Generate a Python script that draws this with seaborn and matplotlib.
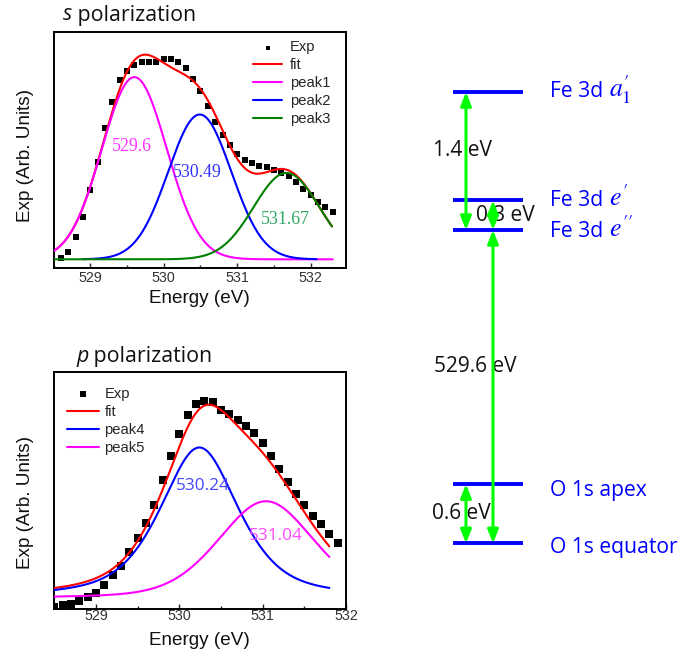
import numpy as np
import pandas as pd
import matplotlib
matplotlib.use("Agg")
import matplotlib.pyplot as plt
from matplotlib.ticker import MultipleLocator, NullLocator
import seaborn as sns

# ---------------- s polarization ----------------
s_energy = [528.6, 528.7, 528.8, 528.9, 529.0, 529.1, 529.2, 529.3, 529.4, 529.5,
            529.6, 529.7, 529.8, 529.9, 530.0, 530.1, 530.2, 530.3, 530.4, 530.5,
            530.6, 530.7, 530.8, 530.9, 531.0, 531.1, 531.2, 531.3, 531.4, 531.5,
            531.6, 531.7, 531.8, 531.9, 532.0, 532.1, 532.2, 532.3]
s_exp = [0.042, 0.068, 0.131, 0.215, 0.331, 0.451, 0.593, 0.703, 0.794, 0.836,
         0.859, 0.871, 0.871, 0.874, 0.883, 0.883, 0.874, 0.847, 0.802, 0.751,
         0.686, 0.619, 0.565, 0.520, 0.483, 0.458, 0.444, 0.434, 0.429, 0.417,
         0.403, 0.388, 0.363, 0.335, 0.309, 0.282, 0.258, 0.236]
s_peak_names = ["peak1", "peak2", "peak3"]
s_centers = [529.6, 530.49, 531.67]
s_heights = [0.77, 0.612, 0.365]
s_fwhm = [1.04, 1.01, 1.05]
s_lorentz = [0.0, 0.0, 0.0]
s_background = 0.038
s_peak_start = [528.5, 528.9, 528.5]
s_peak_end = [532.30, 532.08, 532.29]
s_fit_range = [528.5, 532.29]

# ---------------- p polarization ----------------
p_energy = [528.5, 528.6, 528.7, 528.8, 528.9, 529.0, 529.1, 529.2, 529.3, 529.4,
            529.5, 529.6, 529.7, 529.8, 529.9, 530.0, 530.1, 530.2, 530.3, 530.4,
            530.5, 530.6, 530.7, 530.8, 530.9, 531.0, 531.1, 531.2, 531.3, 531.4,
            531.5, 531.6, 531.7, 531.8, 531.9]
p_exp = [0.008, 0.014, 0.018, 0.032, 0.049, 0.067, 0.100, 0.140, 0.180, 0.238,
         0.299, 0.362, 0.439, 0.541, 0.642, 0.736, 0.818, 0.864, 0.877, 0.870,
         0.839, 0.820, 0.794, 0.771, 0.741, 0.698, 0.645, 0.589, 0.533, 0.484,
         0.439, 0.390, 0.358, 0.313, 0.278]
p_peak_names = ["peak4", "peak5"]
p_centers = [530.24, 531.04]
p_heights = [0.638, 0.411]
p_fwhm = [1.12, 1.36]
p_lorentz = [0.6, 0.3]
p_background = 0.042
p_fit_range = [528.49, 531.8]

# ---------------- energy level scheme ----------------
fe_prefix = "Fe 3d"
fe_symmetry = ["$a_1'$", "$e'$", "$e''$"]
fe_energy = [1.4, 0.3, 0.0]          # relative to Fe 3d e''
o_levels = ["O 1s apex", "O 1s equator"]
o_energy = [0.6, 0.0]                # relative to O 1s equator
edge_energy = 529.6                  # O 1s equator -> Fe 3d e''

# ---------------- styling ----------------
W, H = 681, 664
sns.set_style("ticks")
plt.rcParams["font.family"] = ["Liberation Sans", "DejaVu Sans"]
plt.rcParams["mathtext.fontset"] = "stix"
SANS2 = ["Open Sans", "DejaVu Sans"]
RED, MAG, BLUE, GREEN = "#ff0000", "#ff00ff", "#0000ff", "#008000"


def component(x, center, height, fwhm, eta):
    u = ((x - center) / fwhm) ** 2
    return height * ((1 - eta) * np.exp(-4 * np.log(2) * u) + eta / (1 + 4 * u))


def style_axes(ax, xlim, tick_pad):
    ax.set_xlim(*xlim)
    ax.set_ylim(0, 1)
    ax.xaxis.set_major_locator(MultipleLocator(1))
    ax.xaxis.set_minor_locator(MultipleLocator(0.5))
    ax.yaxis.set_major_locator(NullLocator())
    ax.tick_params(axis="x", which="major", direction="in", length=3.5, width=1.0,
                   labelsize=10.3, labelcolor="#333333", pad=tick_pad, top=False)
    ax.tick_params(axis="x", which="minor", direction="in", length=2.2, width=1.0, top=False)
    for sp in ax.spines.values():
        sp.set_visible(True)
        sp.set_linewidth(1.4)
        sp.set_color("black")
    ax.set_xlabel("Energy (eV)", fontsize=13.6, color="#111111")
    ax.set_ylabel("Exp (Arb. Units)", fontsize=13.6, color="#111111")


fig = plt.figure(figsize=(W / 100, H / 100), dpi=100)

# ---------------- top panel ----------------
ax1 = fig.add_axes([53.5 / W, 1 - 268.3 / H, 292.5 / W, 236.6 / H])
sns.scatterplot(x=s_energy, y=s_exp, marker="s", color="black", s=24, linewidth=0,
                label="Exp", ax=ax1, zorder=2)
xf = np.linspace(s_fit_range[0], s_fit_range[1], 500)
fit = s_background + sum(component(xf, c, h, w, e) for c, h, w, e in
                         zip(s_centers, s_heights, s_fwhm, s_lorentz))
sns.lineplot(x=xf, y=fit, color=RED, lw=1.5, label="fit", ax=ax1, zorder=3)
for name, col, c, h, w, e, a, b in zip(s_peak_names, [MAG, BLUE, GREEN], s_centers,
                                       s_heights, s_fwhm, s_lorentz, s_peak_start, s_peak_end):
    xc = np.linspace(a, b, 400)
    sns.lineplot(x=xc, y=s_background + component(xc, c, h, w, e), color=col, lw=1.5,
                 label=name, ax=ax1, zorder=3)
style_axes(ax1, (528.5, 532.48), 2.0)
ax1.xaxis.set_label_coords(0.5, -0.09)
ax1.yaxis.set_label_coords(-0.066, 0.475)
ax1.legend(loc="upper left", bbox_to_anchor=(0.682, 0.963), frameon=False, fontsize=10.6,
           handlelength=2.0, handletextpad=0.5, labelspacing=0.27, borderpad=0,
           borderaxespad=0, markerscale=0.6)

s_label_pos = [(529.56, 0.516), (530.45, 0.403), (531.65, 0.208)]
s_label_colors = ["#ff33ff", "#3333ff", "#2fa865"]
for c, (x, y), col in zip(s_centers, s_label_pos, s_label_colors):
    ax1.text(x, y, f"{c:g}", color=col, fontsize=12.8, family=["Liberation Serif"],
             ha="center", va="center", zorder=4)

# ---------------- bottom panel ----------------
ax2 = fig.add_axes([53.5 / W, 1 - 608.5 / H, 292.5 / W, 236.8 / H])
sns.scatterplot(x=p_energy, y=p_exp, marker="s", color="black", s=28, linewidth=0,
                label="Exp", ax=ax2, zorder=2)
xf = np.linspace(p_fit_range[0], p_fit_range[1], 500)
fit = p_background + sum(component(xf, c, h, w, e) for c, h, w, e in
                         zip(p_centers, p_heights, p_fwhm, p_lorentz))
sns.lineplot(x=xf, y=fit, color=RED, lw=1.5, label="fit", ax=ax2, zorder=3)
for name, col, c, h, w, e in zip(p_peak_names, [BLUE, MAG], p_centers, p_heights,
                                 p_fwhm, p_lorentz):
    sns.lineplot(x=xf, y=p_background + component(xf, c, h, w, e), color=col, lw=1.5,
                 label=name, ax=ax2, zorder=3)
style_axes(ax2, (528.49, 532.0), 0.5)
ax2.xaxis.set_label_coords(0.5, -0.10)
ax2.yaxis.set_label_coords(-0.066, 0.446)
ax2.legend(loc="upper left", bbox_to_anchor=(0.046, 0.936), frameon=False, fontsize=10.6,
           handlelength=2.2, handletextpad=0.35, labelspacing=0.27, borderpad=0,
           borderaxespad=0, markerscale=0.85)

p_label_pos = [(530.28, 0.519), (531.16, 0.306)]
p_label_colors = ["#4646ff", "#ff4dff"]
for c, (x, y), col in zip(p_centers, p_label_pos, p_label_colors):
    ax2.text(x, y, f"{c:g}", color=col, fontsize=12.4, family=SANS2,
             ha="center", va="center", zorder=4)

# ---------------- panel titles ----------------
for ax, letter, x_px, base_px in [(ax1, "s", 63, 20.5), (ax2, "p", 76, 361.7)]:
    t = fig.text(x_px / W, 1 - base_px / H, letter, fontsize=15.4, family=SANS2,
                 style="italic", va="baseline", color="#111111")
    ax.annotate(" polarization", xy=(1, 0), xycoords=t, va="bottom", ha="left",
                fontsize=15.4, family=SANS2, color="#111111", annotation_clip=False)

# ---------------- energy level scheme ----------------
PX_PER_EV = 98.5
FE_OFFSET = 313.3 / PX_PER_EV        # display height of the broken 529.6 eV gap
BASE_PX = 543.3
dg = fig.add_axes([400 / W, 0, 281 / W, 1])
dg.set_xlim(400, 681)
dg.set_ylim(-(H - BASE_PX) / PX_PER_EV, BASE_PX / PX_PER_EV)
dg.axis("off")

fe_y = [FE_OFFSET + e for e in fe_energy]
o_y = list(o_energy)
dg.hlines(fe_y + o_y, 452.7, 523.3, color=BLUE, lw=2.8, zorder=2)

# Fe 3d levels: sans prefix followed by a larger italic symmetry label
fe_dy = [0.0, 0.0, -0.02]
for sym, y, dy in zip(fe_symmetry, fe_y, fe_dy):
    t = dg.text(550, y + dy, fe_prefix, color=BLUE, fontsize=15.2, family=SANS2,
                ha="left", va="baseline", zorder=3)
    t.set_y(y + dy - 5.2 / PX_PER_EV)
    dg.annotate(sym, xy=(1, 0), xycoords=t, xytext=(4, 3.7), textcoords="offset points",
                color=BLUE, fontsize=18.5, ha="left", va="baseline", zorder=3)

o_dy = [-0.06, -0.045]
for name, y, dy in zip(o_levels, o_y, o_dy):
    dg.text(550, y + dy, name, color=BLUE, fontsize=15.2, family=SANS2,
            ha="left", va="center", zorder=3)

LIME = "#00ff00"
arrows = [(466, fe_y[2], fe_y[0]), (493, fe_y[2], fe_y[1]),
          (493, o_y[1], fe_y[2]), (466, o_y[1], o_y[0])]
for x, y0, y1 in arrows:
    dg.annotate("", xy=(x, y1), xytext=(x, y0), zorder=5,
                arrowprops=dict(arrowstyle="<|-|>,head_length=0.8,head_width=0.32",
                                color=LIME, lw=2.2, shrinkA=0, shrinkB=0,
                                mutation_scale=10))

gap_text = [f"{fe_energy[0] - fe_energy[2]:.1f} eV", f"{fe_energy[1] - fe_energy[2]:.1f} eV",
            f"{edge_energy:.1f} eV", f"{o_energy[0] - o_energy[1]:.1f} eV"]
gap_pos = [(433, (fe_y[0] + fe_y[2]) / 2 + 0.11), (476, (fe_y[1] + fe_y[2]) / 2),
           (434, (o_y[1] + fe_y[2]) / 2 + 0.2), (432, (o_y[0] + o_y[1]) / 2)]
for s, (x, y) in zip(gap_text, gap_pos):
    dg.text(x, y, s, color="#111111", fontsize=15.0, family=SANS2,
            ha="left", va="center", zorder=3)

fig.savefig("out.png", dpi=100)
